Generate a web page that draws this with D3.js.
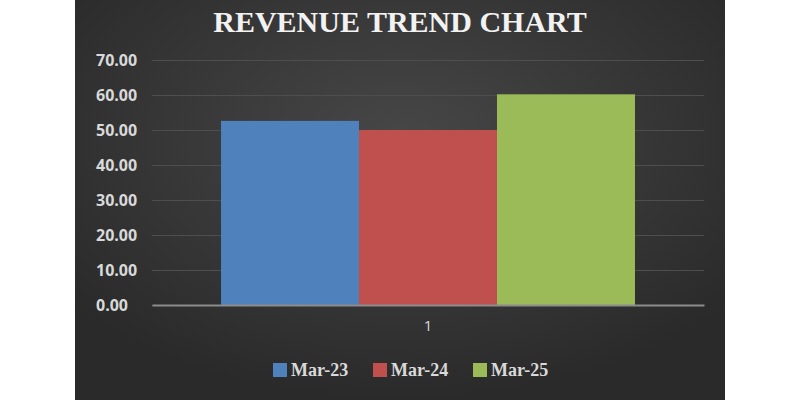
<!DOCTYPE html>
<html>
<head>
<meta charset="utf-8">
<script src="https://cdn.jsdelivr.net/npm/d3@7"></script>
<style>
  html, body { margin: 0; padding: 0; background: #ffffff; }
  svg { display: block; }
</style>
</head>
<body>
<div id="chart"></div>
<script>
// Revenue trend - grouped bar chart, one category, three periods
const categories = ['1'];
const seriesNames = ['Mar-23', 'Mar-24', 'Mar-25'];
const seriesValues = [52.6, 50.0, 60.2];
const seriesColors = ['#4f81bd', '#c0504d', '#9bbb59'];
const yTicks = [0, 10, 20, 30, 40, 50, 60, 70];

const W = 800, H = 400;
const panel = { x: 75, w: 650 };
const plot = { left: 152, right: 704, top: 60, bottom: 305 };

const svg = d3.select('#chart').append('svg')
  .attr('width', W)
  .attr('height', H);

// background gradient
const defs = svg.append('defs');
const grad = defs.append('radialGradient')
  .attr('id', 'bg')
  .attr('cx', '50%').attr('cy', '35%').attr('r', '65%');
grad.append('stop').attr('offset', '0%').attr('stop-color', '#474747');
grad.append('stop').attr('offset', '100%').attr('stop-color', '#2a2a2a');

svg.append('rect')
  .attr('x', panel.x).attr('y', 0)
  .attr('width', panel.w).attr('height', H)
  .attr('fill', 'url(#bg)');

// title
svg.append('text')
  .attr('x', 400)
  .attr('y', 32)
  .attr('text-anchor', 'middle')
  .style('font-family', '"Liberation Serif", "DejaVu Serif", serif')
  .style('font-weight', 'bold')
  .style('font-size', '30px')
  .style('fill', '#f2f2f2')
  .text('REVENUE TREND CHART');

// scales
const x0 = d3.scaleBand()
  .domain(categories)
  .range([plot.left, plot.right])
  .paddingInner(0.1429)
  .paddingOuter(0.1429);

const x1 = d3.scaleBand()
  .domain(seriesNames)
  .range([0, x0.bandwidth()])
  .padding(0);

const y = d3.scaleLinear()
  .domain([0, 70])
  .range([plot.bottom, plot.top]);

const colorScale = d3.scaleOrdinal()
  .domain(seriesNames)
  .range(seriesColors);

// gridlines
const grid = svg.append('g')
  .attr('transform', `translate(${plot.left},0)`)
  .call(d3.axisLeft(y).tickValues(yTicks).tickSize(-(plot.right - plot.left)).tickFormat(''));
grid.select('.domain').remove();
grid.selectAll('line')
  .attr('stroke', '#4e4e4e')
  .attr('stroke-width', 1);

// y axis labels
const yAxis = svg.append('g')
  .attr('transform', `translate(${plot.left},0)`)
  .call(d3.axisLeft(y).tickValues(yTicks).tickSize(0).tickFormat(d3.format('.2f')));
yAxis.select('.domain').remove();
yAxis.selectAll('text')
  .attr('x', 96 - plot.left)
  .attr('text-anchor', 'start')
  .style('font-family', '"Open Sans", "Liberation Sans", sans-serif')
  .style('font-weight', 'bold')
  .style('font-size', '16px')
  .style('fill', '#d9d9d9');

// bars
const data = categories.map(c => ({
  category: c,
  values: seriesNames.map((s, i) => ({ name: s, value: seriesValues[i] }))
}));

const groups = svg.selectAll('.group')
  .data(data)
  .enter().append('g')
  .attr('class', 'group')
  .attr('transform', d => `translate(${x0(d.category)},0)`);

groups.selectAll('.bar')
  .data(d => d.values)
  .enter().append('rect')
  .attr('class', 'bar')
  .attr('x', d => x1(d.name))
  .attr('width', x1.bandwidth())
  .attr('y', d => y(d.value))
  .attr('height', d => y(0) - y(d.value))
  .attr('fill', d => colorScale(d.name));

// x axis
const xAxis = svg.append('g')
  .attr('transform', `translate(0,${plot.bottom})`)
  .call(d3.axisBottom(x0).tickSize(0));
xAxis.select('.domain')
  .attr('stroke', '#8c8c8c')
  .attr('stroke-width', 2);
xAxis.selectAll('text')
  .attr('dy', '0')
  .attr('y', 26)
  .style('font-family', '"Open Sans", "Liberation Sans", sans-serif')
  .style('font-size', '15px')
  .style('fill', '#d9d9d9');

// legend
const legendX = [273, 373, 473];
const legend = svg.selectAll('.legend')
  .data(seriesNames)
  .enter().append('g')
  .attr('class', 'legend')
  .attr('transform', (d, i) => `translate(${legendX[i]},363)`);

legend.append('rect')
  .attr('width', 14)
  .attr('height', 14)
  .attr('fill', d => colorScale(d));

legend.append('text')
  .attr('x', 18)
  .attr('y', 13)
  .style('font-family', '"Liberation Serif", "DejaVu Serif", serif')
  .style('font-weight', 'bold')
  .style('font-size', '18px')
  .style('fill', '#d9d9d9')
  .text(d => d);
</script>
</body>
</html>
